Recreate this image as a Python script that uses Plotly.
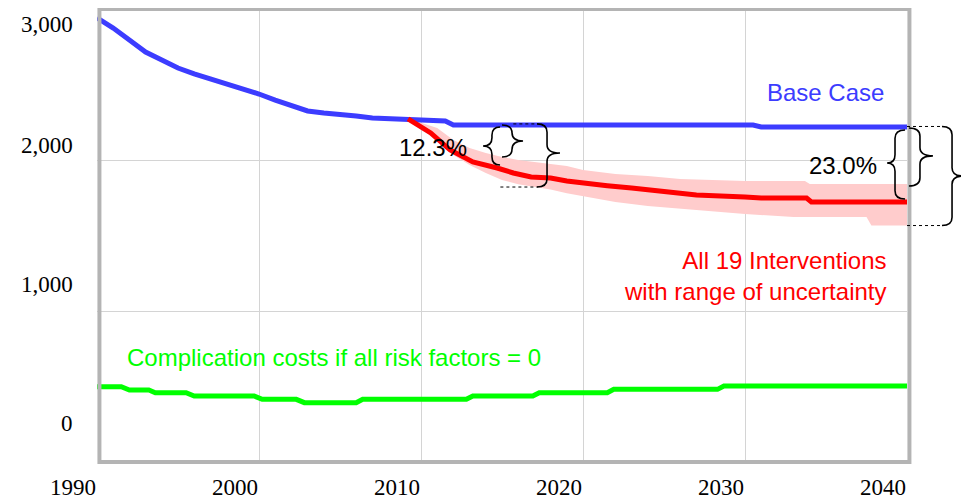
import plotly.graph_objects as go

# the page body has an 8px margin, so the figure is drawn 8px smaller
# and everything is placed relative to the page
PAGE_OFFSET = 8
WIDTH = 969 - PAGE_OFFSET
HEIGHT = 499 - PAGE_OFFSET
X_RANGE = [1990, 2040]
Y_RANGE = [0, 3000]

# Base case (blue)
base_years = [1990, 1991, 1992, 1993, 1994, 1995, 1996, 1997, 1998, 1999, 2000,
              2001, 2002, 2003, 2004, 2005, 2006, 2007, 2008, 2009, 2010,
              2011.5, 2012, 2030.5, 2031, 2040]
base_values = [2941, 2874, 2795, 2715, 2662, 2609, 2570, 2536, 2510, 2470, 2437,
               2397, 2358, 2325, 2311, 2305, 2291, 2278, 2272, 2265, 2265,
               2258, 2232, 2232, 2219, 2219]

# All 19 interventions (red)
interv_years = [2009.2, 2010.6, 2011.8, 2013.2, 2014.7, 2015.7, 2016.8, 2018.0,
                2019.0, 2019.9, 2021.5, 2023, 2025, 2027, 2030, 2031, 2033.8,
                2034.1, 2040]
interv_values = [2272, 2179, 2066, 1987, 1947, 1914, 1888, 1881, 1861, 1848,
                 1830, 1815, 1788, 1768, 1755, 1748, 1748, 1722, 1722]

# Range of uncertainty (pink band)
band_years = [2009.2, 2011, 2012, 2013, 2014, 2015, 2016, 2017, 2018, 2019,
              2020, 2022, 2024, 2026, 2028, 2030, 2033, 2033.7, 2034, 2037.5,
              2037.8, 2040]
band_hi = [2275, 2212, 2133, 2080, 2047, 2020, 2000, 1987, 1974, 1960, 1934,
           1907, 1894, 1874, 1868, 1861, 1861, 1861, 1841, 1841, 1841, 1841]
band_lo = [2275, 2133, 2033, 1967, 1914, 1868, 1840, 1825, 1805, 1780, 1762,
           1722, 1695, 1676, 1656, 1642, 1623, 1623, 1623, 1623, 1566, 1566]

# Complication costs if all risk factors = 0 (green)
zero_years = [1990, 1991.5, 1992, 1993.2, 1993.6, 1995.5, 1996, 1999.7, 2000.2,
              2002.3, 2002.8, 2006, 2006.4, 2012.8, 2013.2, 2016.9, 2017.3,
              2021.5, 2021.9, 2028.3, 2028.7, 2040]
zero_values = [499, 499, 477, 477, 459, 459, 437, 437, 415, 415, 393, 393, 415,
               415, 437, 437, 459, 459, 481, 481, 503, 503]

x_ticks = [1990, 2000, 2010, 2020, 2030, 2040]
x_labels = ["1990", "2000", "2010", "2020", "2030", "2040"]
y_labels = ["3,000", "2,000", "1,000", "0"]

SANS = "Liberation Sans, Arial, sans-serif"
SERIF = "Liberation Serif, Times New Roman, serif"
BLUE = "#3c3cff"
RED = "#ff0000"
GREEN = "#00ff00"

# plot area on the page, in pixels
PLOT_LEFT, PLOT_RIGHT = 97, 907
PLOT_TOP, PLOT_BOTTOM = 9, 462


def to_paper(year, value):
    return ((year - X_RANGE[0]) / (X_RANGE[1] - X_RANGE[0]),
            (value - Y_RANGE[0]) / (Y_RANGE[1] - Y_RANGE[0]))


def px_to_paper(px):
    return (px - PLOT_LEFT) / (PLOT_RIGHT - PLOT_LEFT)


def py_to_paper(py):
    return (PLOT_BOTTOM - py) / (PLOT_BOTTOM - PLOT_TOP)


def brace_path(x_curl, x_body, x_tip, y_top, y_bot, y_tip, r=55):
    """Curly brace as an SVG path (paper coordinates)"""
    pts = [
        ("M", [(x_curl, y_top)]),
        ("Q", [(x_body, y_top), (x_body, y_top - r)]),
        ("L", [(x_body, y_tip + r)]),
        ("Q", [(x_body, y_tip), (x_tip, y_tip)]),
        ("Q", [(x_body, y_tip), (x_body, y_tip - r)]),
        ("L", [(x_body, y_bot + r)]),
        ("Q", [(x_body, y_bot), (x_curl, y_bot)]),
    ]
    out = []
    for cmd, coords in pts:
        s = " ".join("%.5f,%.5f" % to_paper(x, y) for x, y in coords)
        out.append(cmd + " " + s)
    return " ".join(out)


fig = go.Figure()

fig.add_trace(go.Scatter(x=band_years, y=band_lo, mode="lines",
                         line=dict(width=0, color="#ffcccc"), hoverinfo="skip"))
fig.add_trace(go.Scatter(x=band_years, y=band_hi, mode="lines", fill="tonexty",
                         fillcolor="#ffcccc", line=dict(width=0, color="#ffcccc"),
                         hoverinfo="skip"))
fig.add_trace(go.Scatter(x=zero_years, y=zero_values, mode="lines",
                         line=dict(color=GREEN, width=5)))
fig.add_trace(go.Scatter(x=base_years, y=base_values, mode="lines",
                         line=dict(color=BLUE, width=5)))
fig.add_trace(go.Scatter(x=interv_years, y=interv_values, mode="lines",
                         line=dict(color=RED, width=5)))

shapes = [
    # plot border
    dict(type="rect", xref="paper", yref="paper", x0=0.003, y0=0, x1=1.003, y1=1,
         line=dict(color="#b4b4b4", width=4), layer="above"),
]

# braces: (curl, body, tip, top, bottom, tip_y)
braces = [
    (2014.88, 2014.38, 2013.83, 2219, 1967, 2093),
    (2015.0, 2015.62, 2016.3, 2232, 2020, 2126),
    (2017.16, 2017.78, 2018.58, 2239, 1821, 2046),
    (2039.88, 2039.26, 2038.77, 2199, 1742, 1980),
    (2040.12, 2040.8, 2041.6, 2212, 1828, 2027),
    (2042.16, 2042.78, 2043.46, 2222, 1566, 1894),
]
for b in braces:
    shapes.append(dict(type="path", xref="paper", yref="paper", path=brace_path(*b),
                       line=dict(color="black", width=1.6), layer="above"))

# dotted guide lines
for x0, x1, y in [(2015.7, 2017.2, 2239), (2014.9, 2017.2, 1821),
                  (2040.0, 2042.2, 2222), (2040.0, 2042.2, 1566)]:
    px0, py0 = to_paper(x0, y)
    px1, _ = to_paper(x1, y)
    shapes.append(dict(type="line", xref="paper", yref="paper", x0=px0, x1=px1,
                       y0=py0, y1=py0, line=dict(color="black", width=1, dash="dot"),
                       layer="above"))

annotations = []
for xv, lab in zip(x_ticks, x_labels):
    annotations.append(dict(x=xv, y=py_to_paper(487), xref="x", yref="paper",
                            text=lab, showarrow=False, xanchor="right",
                            yanchor="middle", borderpad=0,
                            font=dict(family=SERIF, size=23, color="black")))
for py, lab in zip([25, 145, 284, 423], y_labels):
    annotations.append(dict(x=px_to_paper(75), y=py_to_paper(py), xref="paper",
                            yref="paper", text=lab, showarrow=False,
                            xanchor="right", yanchor="middle",
                            font=dict(family=SERIF, size=23, color="black")))

labels = [
    ("Base Case", 886, 92, "right", BLUE),
    ("All 19 Interventions<br>with range of uncertainty", 888, 276, "right", RED),
    ("Complication costs if all risk factors = 0", 125, 357, "left", GREEN),
    ("12.3%", 433, 147, "center", "black"),
    ("23.0%", 843, 165, "center", "black"),
]
for text, px, py, anchor, color in labels:
    annotations.append(dict(x=px_to_paper(px), y=py_to_paper(py), xref="paper",
                            yref="paper", text=text, showarrow=False,
                            xanchor=anchor, yanchor="middle", align="right",
                            font=dict(family=SANS, size=24, color=color)))

fig.update_layout(
    width=WIDTH,
    height=HEIGHT,
    margin=dict(l=PLOT_LEFT - PAGE_OFFSET, r=969 - PLOT_RIGHT,
                t=PLOT_TOP - PAGE_OFFSET, b=499 - PLOT_BOTTOM, pad=0),
    paper_bgcolor="white",
    plot_bgcolor="white",
    showlegend=False,
    hovermode=False,
    xaxis=dict(range=X_RANGE, tickvals=[2000, 2010, 2020, 2030], showgrid=True,
               gridcolor="#d4d4d4", gridwidth=1, showticklabels=False,
               zeroline=False, showline=False, ticks=""),
    yaxis=dict(range=Y_RANGE, tickvals=[1000, 2000], showgrid=True,
               gridcolor="#d4d4d4", gridwidth=1, showticklabels=False,
               zeroline=False, showline=False, ticks=""),
    shapes=shapes,
    annotations=annotations,
)

fig.write_html("out.html")
